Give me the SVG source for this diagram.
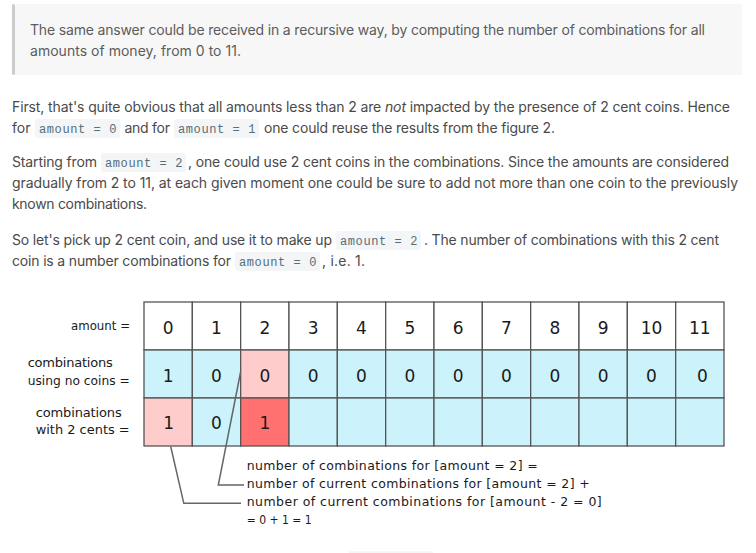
<svg xmlns="http://www.w3.org/2000/svg" width="756" height="553" viewBox="0 0 756 553">
<style>
.body{font-family:Inter,"Noto Sans","Liberation Sans",sans-serif;font-size:14px;fill:#4a4a4a}
.bq{fill:#5c5c5c}
.cbg{fill:#f3f5f7}
.code{font-family:"Liberation Mono","DejaVu Sans Mono",monospace;font-size:12px;letter-spacing:0.6px;fill:#546e7a}
.cell{stroke:#555;stroke-width:1.3}
.w{fill:#ffffff}.c{fill:#ccf2fb}.p{fill:#ffcccc}.r{fill:#ff7070}
.hand{font-family:"DejaVu Sans","Noto Sans",sans-serif;fill:#1a1a1a}
.num{font-size:17px;text-anchor:middle}
.lbl{font-size:13px}
.ann{font-size:12.5px;white-space:pre}
.conn{fill:none;stroke:#666;stroke-width:1.5}
</style>
<rect width="756" height="553" fill="#ffffff"/>
<g id="quote">
<rect x="12" y="4" width="730" height="71" fill="#f7f7f7"/>
<rect x="12" y="4" width="3" height="71" rx="1.5" fill="#cdcdcd"/>
<text class="body bq" x="30" y="35" textLength="675" lengthAdjust="spacing">The same answer could be received in a recursive way, by computing the number of combinations for all</text>
<text class="body bq" x="30" y="56" textLength="211" lengthAdjust="spacing">amounts of money, from 0 to 11.</text>
</g>
<g id="para1">
<text class="body" x="12" y="112" textLength="718" lengthAdjust="spacing">First, that's quite obvious that all amounts less than 2 are <tspan font-style="italic">not</tspan> impacted by the presence of 2 cent coins. Hence</text>
<text class="body" x="12" y="133">for</text>
<rect class="cbg" x="35" y="119" width="85" height="19" rx="3"/>
<text class="code" x="39" y="133">amount = 0</text>
<text class="body" x="124.5" y="133" textLength="45.5" lengthAdjust="spacing">and for</text>
<rect class="cbg" x="174" y="119" width="85" height="19" rx="3"/>
<text class="code" x="178" y="133">amount = 1</text>
<text class="body" x="264" y="133" textLength="291" lengthAdjust="spacing">one could reuse the results from the figure 2.</text>
</g>
<g id="para2">
<text class="body" x="12" y="167" textLength="85" lengthAdjust="spacing">Starting from</text>
<rect class="cbg" x="101" y="153" width="85" height="19" rx="3"/>
<text class="code" x="105" y="167">amount = 2</text>
<text class="body" x="188" y="167" textLength="541" lengthAdjust="spacing">, one could use 2 cent coins in the combinations. Since the amounts are considered</text>
<text class="body" x="12" y="188" textLength="726" lengthAdjust="spacing">gradually from 2 to 11, at each given moment one could be sure to add not more than one coin to the previously</text>
<text class="body" x="12" y="209" textLength="135" lengthAdjust="spacing">known combinations.</text>
</g>
<g id="para3">
<text class="body" x="12" y="245" textLength="320" lengthAdjust="spacing">So let's pick up 2 cent coin, and use it to make up</text>
<rect class="cbg" x="336" y="231" width="85" height="19" rx="3"/>
<text class="code" x="340" y="245">amount = 2</text>
<text class="body" x="424" y="245" textLength="295" lengthAdjust="spacing">. The number of combinations with this 2 cent</text>
<text class="body" x="12" y="266" textLength="219" lengthAdjust="spacing">coin is a number combinations for</text>
<rect class="cbg" x="235" y="252" width="85" height="19" rx="3"/>
<text class="code" x="239" y="266">amount = 0</text>
<text class="body" x="322" y="266" textLength="43" lengthAdjust="spacing">, i.e. 1.</text>
</g>
<g id="row-labels" class="hand lbl">
<text x="130" y="330" text-anchor="end" textLength="59" lengthAdjust="spacingAndGlyphs">amount =</text>
<text x="27.7" y="367" textLength="85" lengthAdjust="spacing">combinations</text>
<text x="27.7" y="385" textLength="102" lengthAdjust="spacingAndGlyphs">using no coins =</text>
<text x="35.7" y="417" textLength="86" lengthAdjust="spacing">combinations</text>
<text x="35.7" y="434" textLength="94" lengthAdjust="spacingAndGlyphs">with 2 cents =</text>
</g>
<g id="row-amount" class="hand num">
<g id="a0"><rect class="cell w" x="144" y="302" width="48.33" height="48"/><text x="168.2" y="333.5">0</text></g>
<g id="a1"><rect class="cell w" x="192.33" y="302" width="48.33" height="48"/><text x="216.5" y="333.5">1</text></g>
<g id="a2"><rect class="cell w" x="240.67" y="302" width="48.33" height="48"/><text x="264.8" y="333.5">2</text></g>
<g id="a3"><rect class="cell w" x="289" y="302" width="48.33" height="48"/><text x="313.2" y="333.5">3</text></g>
<g id="a4"><rect class="cell w" x="337.33" y="302" width="48.33" height="48"/><text x="361.5" y="333.5">4</text></g>
<g id="a5"><rect class="cell w" x="385.67" y="302" width="48.33" height="48"/><text x="409.8" y="333.5">5</text></g>
<g id="a6"><rect class="cell w" x="434" y="302" width="48.33" height="48"/><text x="458.2" y="333.5">6</text></g>
<g id="a7"><rect class="cell w" x="482.33" y="302" width="48.33" height="48"/><text x="506.5" y="333.5">7</text></g>
<g id="a8"><rect class="cell w" x="530.67" y="302" width="48.33" height="48"/><text x="554.8" y="333.5">8</text></g>
<g id="a9"><rect class="cell w" x="579" y="302" width="48.33" height="48"/><text x="603.2" y="333.5">9</text></g>
<g id="a10"><rect class="cell w" x="627.33" y="302" width="48.33" height="48"/><text x="651.5" y="333.5">10</text></g>
<g id="a11"><rect class="cell w" x="675.67" y="302" width="48.33" height="48"/><text x="699.8" y="333.5">11</text></g>
</g>
<g id="row-nocoins" class="hand num">
<g id="n0"><rect class="cell c" x="144" y="350" width="48.33" height="48"/><text x="168.2" y="381.5">1</text></g>
<g id="n1"><rect class="cell c" x="192.33" y="350" width="48.33" height="48"/><text x="216.5" y="381.5">0</text></g>
<g id="n2"><rect class="cell p" x="240.67" y="350" width="48.33" height="48"/><text x="264.8" y="381.5">0</text></g>
<g id="n3"><rect class="cell c" x="289" y="350" width="48.33" height="48"/><text x="313.2" y="381.5">0</text></g>
<g id="n4"><rect class="cell c" x="337.33" y="350" width="48.33" height="48"/><text x="361.5" y="381.5">0</text></g>
<g id="n5"><rect class="cell c" x="385.67" y="350" width="48.33" height="48"/><text x="409.8" y="381.5">0</text></g>
<g id="n6"><rect class="cell c" x="434" y="350" width="48.33" height="48"/><text x="458.2" y="381.5">0</text></g>
<g id="n7"><rect class="cell c" x="482.33" y="350" width="48.33" height="48"/><text x="506.5" y="381.5">0</text></g>
<g id="n8"><rect class="cell c" x="530.67" y="350" width="48.33" height="48"/><text x="554.8" y="381.5">0</text></g>
<g id="n9"><rect class="cell c" x="579" y="350" width="48.33" height="48"/><text x="603.2" y="381.5">0</text></g>
<g id="n10"><rect class="cell c" x="627.33" y="350" width="48.33" height="48"/><text x="651.5" y="381.5">0</text></g>
<g id="n11"><rect class="cell c" x="675.67" y="350" width="48.33" height="48"/><text x="702.5" y="381.5">0</text></g>
</g>
<g id="row-2cents" class="hand num">
<g id="t0"><rect class="cell p" x="144" y="398" width="48.33" height="48"/><text x="168.7" y="429">1</text></g>
<g id="t1"><rect class="cell c" x="192.33" y="398" width="48.33" height="48"/><text x="216.5" y="429">0</text></g>
<g id="t2"><rect class="cell r" x="240.67" y="398" width="48.33" height="48"/><text x="264.8" y="429">1</text></g>
<g id="t3"><rect class="cell c" x="289" y="398" width="48.33" height="48"/></g>
<g id="t4"><rect class="cell c" x="337.33" y="398" width="48.33" height="48"/></g>
<g id="t5"><rect class="cell c" x="385.67" y="398" width="48.33" height="48"/></g>
<g id="t6"><rect class="cell c" x="434" y="398" width="48.33" height="48"/></g>
<g id="t7"><rect class="cell c" x="482.33" y="398" width="48.33" height="48"/></g>
<g id="t8"><rect class="cell c" x="530.67" y="398" width="48.33" height="48"/></g>
<g id="t9"><rect class="cell c" x="579" y="398" width="48.33" height="48"/></g>
<g id="t10"><rect class="cell c" x="627.33" y="398" width="48.33" height="48"/></g>
<g id="t11"><rect class="cell c" x="675.67" y="398" width="48.33" height="48"/></g>
</g>
<g id="connectors">
<path class="conn" d="M170.7 446.5 L183.8 503.3 L241 503.3"/>
<path class="conn" d="M240.7 371.5 L218.3 485 L244 485"/>
</g>
<g id="annotation" class="hand ann">
<text x="246.7" y="470" textLength="291" lengthAdjust="spacing">number of combinations for [amount = 2]  =</text>
<text x="246.7" y="488" textLength="343" lengthAdjust="spacing">number of current combinations for [amount = 2] +</text>
<text x="246.7" y="506" textLength="355" lengthAdjust="spacing">number of current combinations for [amount - 2 = 0]</text>
<text x="246.7" y="524" textLength="65" lengthAdjust="spacingAndGlyphs">= 0 + 1 = 1</text>
</g>
<line x1="349" y1="552" x2="433" y2="552" stroke="#ececec" stroke-width="1"/>
</svg>
